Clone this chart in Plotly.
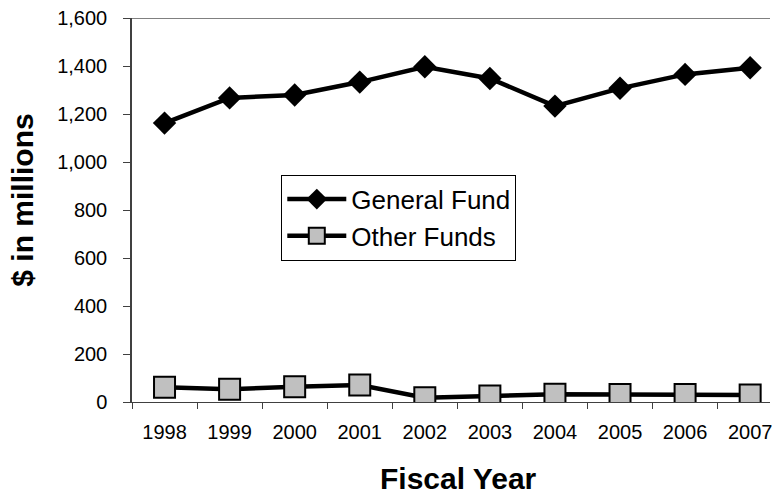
import plotly.graph_objects as go

years = ["1998", "1999", "2000", "2001", "2002", "2003", "2004", "2005", "2006", "2007"]
general_fund = [1162, 1267, 1279, 1333, 1397, 1348, 1233, 1307, 1365, 1393]
other_funds = [61, 53, 64, 71, 18, 25, 32, 31, 31, 29]
y_ticks = [0, 200, 400, 600, 800, 1000, 1200, 1400, 1600]

FONT = "Arial, Liberation Sans, sans-serif"

fig = go.Figure()
fig.add_trace(go.Scatter(
    x=years, y=general_fund, name="General Fund", mode="lines+markers",
    line=dict(color="black", width=4.5),
    marker=dict(symbol="diamond", size=18, color="black", line=dict(color="black", width=0)),
))
fig.add_trace(go.Scatter(
    x=years, y=other_funds, name="Other Funds", mode="lines+markers",
    line=dict(color="black", width=4.5),
    marker=dict(symbol="square", size=21, color="#C0C0C0", line=dict(color="black", width=2)),
))

fig.update_layout(
    width=772, height=491,
    margin=dict(l=132, r=0, t=18, b=89),
    paper_bgcolor="white", plot_bgcolor="white",
    font=dict(family=FONT, color="black", size=20),
    showlegend=True,
    legend=dict(
        x=0.234, y=0.592, xanchor="left", yanchor="top",
        bgcolor="white", bordercolor="black", borderwidth=1,
        font=dict(family=FONT, size=26, color="black"),
        itemwidth=59,
        tracegroupgap=0,
    ),
    xaxis=dict(
        type="category", range=[-0.5, 9.305],
        showgrid=False, zeroline=False,
        showline=True, linecolor="#404040", linewidth=1,
        ticks="outside", tickson="boundaries", ticklen=6, tickcolor="#404040",
        ticklabelstandoff=12,
        tickfont=dict(family=FONT, size=20, color="black"),
    ),
    yaxis=dict(
        range=[0, 1600], tickvals=y_ticks, tickformat=",",
        showgrid=False, zeroline=False,
        showline=True, linecolor="#404040", linewidth=1.5,
        ticks="outside", ticklen=7, tickcolor="#404040",
        ticklabelstandoff=12,
        tickfont=dict(family=FONT, size=20, color="black"),
    ),
    shapes=[dict(type="line", xref="paper", yref="y", x0=0, x1=1, y0=1600, y1=1600,
                 line=dict(color="#808080", width=2))],
    annotations=[
        dict(text="<b>Fiscal Year</b>", xref="paper", yref="paper", x=0.511, y=-0.199,
             xanchor="center", yanchor="middle", showarrow=False,
             font=dict(family=FONT, size=30, color="black")),
        dict(text="<b>$ in millions</b>", xref="paper", yref="paper", x=-0.172, y=0.525,
             xanchor="center", yanchor="middle", showarrow=False, textangle=-90,
             font=dict(family=FONT, size=30, color="black")),
    ],
)

fig.write_html("out.html")
